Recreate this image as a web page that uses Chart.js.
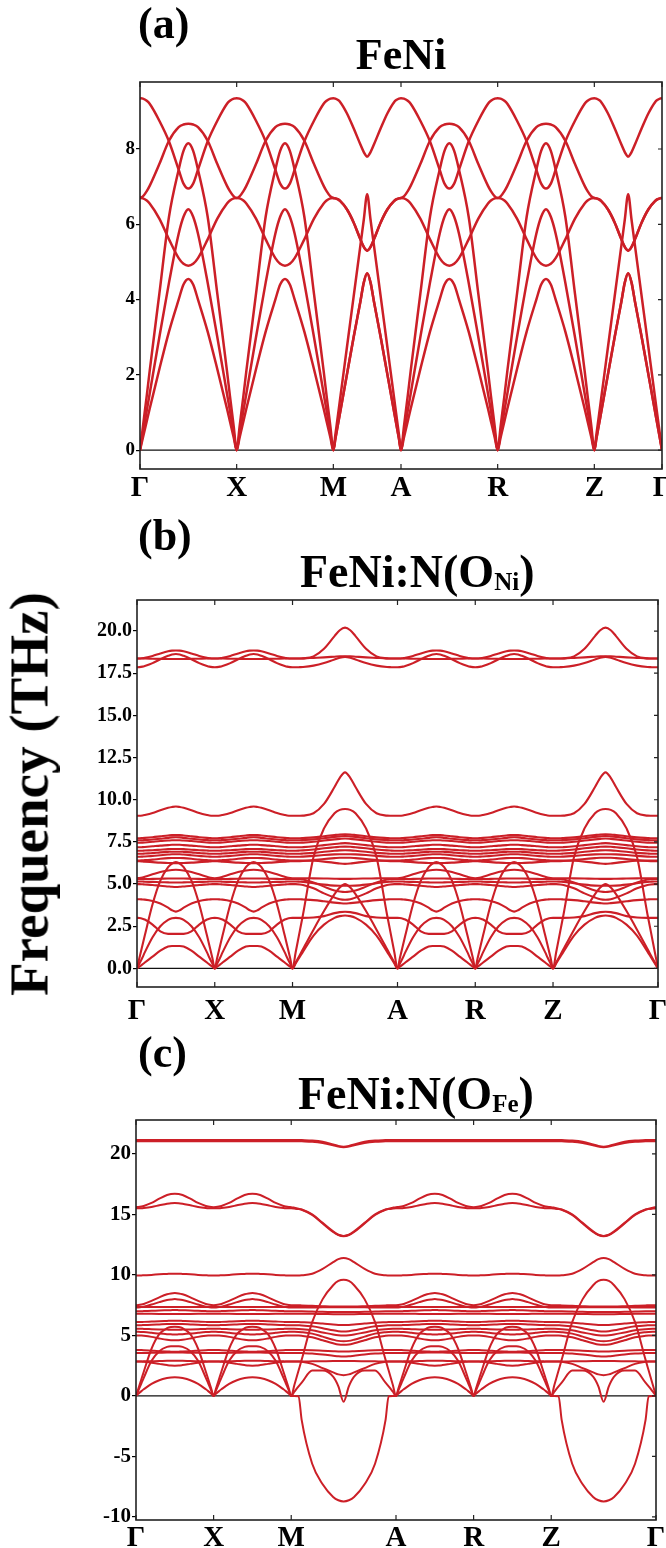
<!DOCTYPE html>
<html><head><meta charset="utf-8">
<script src="https://cdn.jsdelivr.net/npm/chart.js@4.4.1/dist/chart.umd.min.js"></script>
<style>
html,body{margin:0;padding:0;background:#fff;}
body{width:666px;height:1548px;position:relative;overflow:hidden;font-family:'Liberation Serif','Times New Roman',serif;}
canvas{position:absolute;left:0;}
.t{position:absolute;font-weight:bold;line-height:1;white-space:nowrap;color:#000;}
.t sub{font-size:25px;vertical-align:baseline;position:relative;top:3px;}
</style></head><body>
<canvas id="ca" width="666" height="510" style="top:0px"></canvas>
<canvas id="cb" width="666" height="510" style="top:520px"></canvas>
<canvas id="cc" width="666" height="508" style="top:1040px"></canvas>
<div class="t" style="left:138px;top:2px;font-size:44px">(a)</div>
<div class="t" style="left:401px;top:33px;font-size:44px;transform:translateX(-50%)">FeNi</div>
<div class="t" style="left:138px;top:514px;font-size:44px">(b)</div>
<div class="t" style="left:300px;top:549px;font-size:46px">FeNi:N(O<sub>Ni</sub>)</div>
<div class="t" style="left:138px;top:1031px;font-size:44px">(c)</div>
<div class="t" style="left:298px;top:1071px;font-size:46px">FeNi:N(O<sub>Fe</sub>)</div>
<div class="t" style="left:29px;top:794px;font-size:55px;transform:translate(-50%,-50%) rotate(-90deg)">Frequency (THz)</div>
<script>
const RED = '#cc1f27';
const kLabels = ['Γ','X','M','A','R','Z','Γ'];
const nodesA = [0,1,2,2.7,3.7,4.7,5.4];
const nodesBC = [0,1,2,3.35,4.35,5.35,6.7];
const yTicksA = [0,2,4,6,8];
const yTicksB = [0,2.5,5,7.5,10,12.5,15,17.5,20];
const yTicksC = [-10,-5,0,5,10,15,20];
// fractional positions along each segment (first half; second half mirrors)
const tHalf = [0,.03,.07,.1,.2,.3,.4,.45,.5];

// ---- panel (a) FeNi : long segments (Γ-X, X-M, A-R, R-Z) and short (M-A, Z-Γ)
const aL1 = [0,.33,.77,1.1,2.15,3.15,4.0,4.4,4.55];
const aL2 = [0,.45,1.05,1.5,3.0,4.45,5.75,6.2,6.4];
const aL3 = [0,.62,1.45,2.1,4.15,6.2,7.45,7.95,8.15];
const aL4 = [6.7,6.69,6.63,6.55,6.15,5.6,5.1,4.95,4.9];
const aL5 = [6.7,6.74,6.88,7.02,7.6,8.22,8.58,8.65,8.67];
const aL6 = [9.35,9.34,9.28,9.2,8.75,8.2,7.45,7.08,6.95];
const aS1 = [0,.3,.7,1.0,2.0,3.0,3.95,4.45,4.7];
const aS2 = [0,.41,.95,1.36,2.72,4.08,5.44,6.12,6.8];
const aS3 = [6.7,6.69,6.66,6.62,6.4,6.05,5.6,5.4,5.3];
const aS4 = [9.35,9.34,9.3,9.25,8.95,8.55,8.12,7.92,7.8];

// ---- panel (b) FeNi:N(O_Ni)
const bL_h1 = [18.37,18.37,18.37,18.37,18.36,18.35,18.34,18.34,18.34];
const bL_h2 = [18.37,18.37,18.39,18.41,18.52,18.67,18.8,18.84,18.85];
const bL_h3 = [17.85,17.86,17.89,17.93,18.1,18.33,18.53,18.61,18.64];
const bL_m  = [9.05,9.05,9.07,9.1,9.22,9.38,9.52,9.57,9.6];
const bL_d1 = [7.72,7.72,7.73,7.74,7.78,7.83,7.88,7.9,7.9];
const bL_d1b = [7.6,7.6,7.6,7.61,7.64,7.69,7.74,7.77,7.78];
const bL_d2 = [7.45,7.45,7.46,7.47,7.51,7.55,7.58,7.6,7.6];
const bL_d3 = [7.18,7.18,7.19,7.2,7.24,7.28,7.31,7.33,7.33];
const bL_d4 = [6.98,6.98,6.98,6.99,7.01,7.04,7.07,7.08,7.08];
const bL_d4b = [6.8,6.8,6.8,6.81,6.84,6.88,6.91,6.92,6.92];
const bL_d5 = [6.62,6.62,6.63,6.64,6.67,6.71,6.75,6.77,6.77];
const bL_d6 = [6.4,6.4,6.41,6.42,6.45,6.5,6.54,6.55,6.55];
const bL_d7 = [6.35,6.35,6.34,6.33,6.3,6.27,6.25,6.24,6.24];
const bL_d8 = [5.35,5.36,5.39,5.43,5.58,5.72,5.81,5.84,5.85];
const bL_d9 = [5.3,5.3,5.3,5.3,5.31,5.32,5.33,5.33,5.33];
const bL_d10 = [5.15,5.15,5.15,5.14,5.13,5.11,5.1,5.09,5.09];
const bL_d11 = [5.0,5.0,4.99,4.98,4.95,4.9,4.86,4.84,4.83];
const bL_l1 = [4.1,4.1,4.09,4.08,4.0,3.85,3.6,3.45,3.37];
const bL_l2 = [3.0,2.99,2.95,2.9,2.6,2.2,2.05,2.05,2.05];
const bL_a1 = [0,.1,.24,.35,.7,1.05,1.3,1.33,1.33];
const bL_a2 = [0,.28,.65,.95,1.85,2.5,2.88,2.97,3.0];
const bL_a3 = [0,.6,1.38,1.95,3.8,5.2,6.0,6.22,6.3];
const bS_h1 = [18.37,18.37,18.37,18.38,18.5,18.95,19.7,20.05,20.2];
const bS_h2 = [18.37,18.37,18.37,18.38,18.41,18.44,18.48,18.5,18.5];
const bS_h3 = [17.85,17.85,17.86,17.87,17.95,18.1,18.32,18.42,18.47];
const bS_m  = [9.05,9.05,9.05,9.06,9.2,9.75,10.75,11.3,11.62];
const bS_d1 = [7.72,7.72,7.72,7.73,7.77,7.84,7.91,7.94,7.95];
const bS_d1b = [7.6,7.6,7.6,7.61,7.65,7.72,7.8,7.83,7.85];
const bS_d2 = [7.45,7.45,7.45,7.46,7.51,7.58,7.65,7.68,7.7];
const bS_d3 = [7.18,7.18,7.18,7.19,7.24,7.31,7.38,7.41,7.43];
const bS_d4 = [6.98,6.98,6.99,7.0,7.05,7.12,7.18,7.21,7.22];
const bS_d4b = [6.8,6.8,6.8,6.81,6.85,6.92,6.98,7.0,7.01];
const bS_d5 = [6.62,6.62,6.62,6.63,6.67,6.72,6.76,6.77,6.77];
const bS_d6 = [6.4,6.4,6.4,6.4,6.38,6.33,6.26,6.22,6.2];
const bS_d7 = [6.35,6.35,6.36,6.37,6.42,6.49,6.54,6.56,6.56];
const bS_d8 = [5.35,5.35,5.35,5.35,5.34,5.33,5.32,5.31,5.31];
const bS_d9 = [5.3,5.3,5.29,5.27,5.1,4.85,4.62,4.56,4.53];
const bS_d10 = [5.15,5.15,5.14,5.13,5.05,4.97,4.91,4.9,4.9];
const bS_d11 = [5.0,5.0,4.98,4.95,4.75,4.45,4.2,4.1,4.07];
const bS_l1 = [4.1,4.1,4.1,4.09,4.05,3.98,3.9,3.87,3.85];
const bS_l2 = [3.0,3.0,3.0,3.0,3.02,3.1,3.28,3.34,3.36];
const bS_a1 = [0,.3,.7,1.0,1.95,2.6,3.0,3.1,3.14];
const bS_a2 = [0,.96,2.24,3.2,6.6,8.3,9.2,9.4,9.45];
const bS_a3 = [0,.35,.8,1.15,2.3,3.4,4.4,4.8,5.0];

// ---- panel (c) FeNi:N(O_Fe)
const cL_h1 = [21.15,21.15,21.15,21.15,21.15,21.15,21.15,21.15,21.15];
const cL_h2 = [21.05,21.05,21.05,21.05,21.05,21.05,21.05,21.05,21.05];
const cL_u1 = [15.6,15.61,15.65,15.7,15.95,16.3,16.6,16.68,16.7];
const cL_u2 = [15.5,15.5,15.51,15.53,15.62,15.75,15.88,15.93,15.95];
const cL_m  = [9.95,9.95,9.96,9.97,10.0,10.05,10.08,10.1,10.1];
const cL_d1 = [7.5,7.51,7.55,7.6,7.85,8.15,8.4,8.47,8.5];
const cL_d2 = [7.3,7.31,7.34,7.38,7.55,7.75,7.92,7.97,8.0];
const cL_d3 = [7.35,7.35,7.35,7.35,7.35,7.35,7.35,7.35,7.35];
const cL_d4 = [7.0,7.0,7.0,7.01,7.03,7.06,7.08,7.09,7.1];
const cL_d5 = [6.8,6.8,6.8,6.8,6.79,6.78,6.77,6.77,6.77];
const cL_d6 = [6.1,6.1,6.11,6.12,6.15,6.18,6.2,6.21,6.21];
const cL_d7 = [5.85,5.85,5.85,5.86,5.88,5.91,5.94,5.95,5.95];
const cL_d8 = [5.55,5.55,5.55,5.54,5.52,5.5,5.48,5.47,5.47];
const cL_d9 = [5.3,5.3,5.29,5.28,5.22,5.15,5.1,5.09,5.08];
const cL_d10 = [5.0,5.0,4.99,4.97,4.88,4.75,4.64,4.61,4.6];
const cL_l1 = [3.8,3.8,3.79,3.78,3.74,3.7,3.67,3.66,3.65];
const cL_l2 = [3.55,3.55,3.55,3.55,3.56,3.57,3.58,3.59,3.59];
const cL_l3 = [2.85,2.85,2.85,2.86,2.87,2.88,2.9,2.9,2.9];
const cL_l4 = [2.85,2.85,2.84,2.82,2.75,2.65,2.55,2.51,2.5];
const cL_a1 = [0,.18,.4,.55,1.0,1.3,1.48,1.53,1.55];
const cL_a2 = [0,.45,1.05,1.5,2.9,3.7,4.05,4.1,4.1];
const cL_a3 = [0,.6,1.4,2.0,3.9,5.1,5.6,5.7,5.72];
const cS_h1 = [21.15,21.15,21.15,21.14,21.1,21.0,20.78,20.66,20.6];
const cS_h2 = [21.05,21.05,21.05,21.04,21.0,20.9,20.72,20.6,20.55];
const cS_u1 = [15.6,15.55,15.47,15.4,15.0,14.3,13.6,13.32,13.22];
const cS_u2 = [15.5,15.48,15.44,15.38,14.95,14.25,13.55,13.3,13.2];
const cS_m  = [9.95,9.95,9.96,9.97,10.1,10.5,11.05,11.3,11.4];
const cS_d1 = [7.5,7.5,7.49,7.48,7.45,7.42,7.4,7.4,7.4];
const cS_d2 = [7.3,7.3,7.3,7.3,7.31,7.32,7.33,7.33,7.33];
const cS_d3 = [7.35,7.35,7.35,7.35,7.35,7.35,7.35,7.35,7.35];
const cS_d4 = [7.0,7.0,7.0,6.99,6.97,6.95,6.94,6.93,6.93];
const cS_d5 = [6.8,6.8,6.8,6.8,6.79,6.77,6.76,6.75,6.75];
const cS_d6 = [6.1,6.1,6.1,6.09,6.05,5.98,5.9,5.87,5.86];
const cS_d7 = [5.85,5.85,5.84,5.83,5.75,5.6,5.42,5.35,5.32];
const cS_d8 = [5.55,5.55,5.54,5.52,5.42,5.25,5.08,5.02,5.0];
const cS_d9 = [5.3,5.3,5.29,5.27,5.15,4.9,4.65,4.55,4.52];
const cS_d10 = [5.0,5.0,4.99,4.97,4.85,4.6,4.35,4.25,4.22];
const cS_l1 = [3.8,3.8,3.8,3.8,3.78,3.74,3.7,3.68,3.67];
const cS_l2 = [3.55,3.55,3.55,3.54,3.5,3.42,3.32,3.27,3.25];
const cS_l3 = [2.85,2.85,2.85,2.85,2.86,2.87,2.88,2.88,2.88];
const cS_l4 = [2.85,2.85,2.84,2.82,2.65,2.3,1.95,1.78,1.72];
const cS_a1 = [0,.35,.8,1.1,2.1,2.1,1.6,.8,-.47];
const cS_a2 = [0,.9,2.1,3.0,6.1,8.0,9.15,9.5,9.6];
const cS_a3 = [0,0,-.02,-2.0,-5.6,-7.3,-8.35,-8.62,-8.72];

const bandsA = [[aL1,aS1],[aL2,aS1],[aL3,aS2],[aL4,aS3],[aL5,aS3],[aL6,aS4]];
const bandsB = [[bL_h1,bS_h1],[bL_h2,bS_h2],[bL_h3,bS_h3],[bL_m,bS_m],[bL_d1,bS_d1],[bL_d1b,bS_d1b],[bL_d2,bS_d2],
  [bL_d3,bS_d3],[bL_d4,bS_d4],[bL_d4b,bS_d4b],[bL_d5,bS_d5],[bL_d6,bS_d6],[bL_d7,bS_d7],[bL_d8,bS_d8],[bL_d9,bS_d9],
  [bL_d10,bS_d10],[bL_d11,bS_d11],[bL_l1,bS_l1],[bL_l2,bS_l2],[bL_a1,bS_a1],[bL_a2,bS_a2],[bL_a3,bS_a3]];
const bandsC = [[cL_h1,cS_h1],[cL_h2,cS_h2],[cL_u1,cS_u1],[cL_u2,cS_u2],[cL_m,cS_m],[cL_d1,cS_d1],
  [cL_d2,cS_d2],[cL_d3,cS_d3],[cL_d4,cS_d4],[cL_d5,cS_d5],[cL_d6,cS_d6],[cL_d7,cS_d7],[cL_d8,cS_d8],
  [cL_d9,cS_d9],[cL_d10,cS_d10],[cL_l1,cS_l1],[cL_l2,cS_l2],[cL_l3,cS_l3],[cL_l4,cS_l4],
  [cL_a1,cS_a1],[cL_a2,cS_a2],[cL_a3,cS_a3]];

function mirror(h){ return h.concat(h.slice(0,-1).reverse()); }
const tFull = tHalf.concat(tHalf.slice(0,-1).reverse().map(t => 1 - t));
function bandPoints(nodes, L, S){
  const segs = [L,L,S,L,L,S].map(mirror);
  const pts = [];
  for (let i = 0; i < 6; i++){
    const a = nodes[i], b = nodes[i+1];
    for (let j = (i === 0 ? 0 : 1); j < tFull.length; j++){
      pts.push({x: a + tFull[j]*(b - a), y: segs[i][j]});
    }
  }
  return pts;
}

const FONT = "'Liberation Serif','Times New Roman',serif";
const framePlugin = {
  id: 'frame',
  beforeDatasetsDraw(chart){
    const {ctx, chartArea: ca, scales: {y}} = chart;
    const y0 = y.getPixelForValue(0);
    ctx.save(); ctx.strokeStyle = '#111'; ctx.lineWidth = 1.2;
    ctx.beginPath(); ctx.moveTo(ca.left, y0); ctx.lineTo(ca.right, y0); ctx.stroke(); ctx.restore();
  },
  afterDatasetsDraw(chart){
    const {ctx, chartArea: ca, scales: {x, y}} = chart;
    ctx.save(); ctx.strokeStyle = '#222'; ctx.lineWidth = 1.6;
    ctx.strokeRect(ca.left, ca.top, ca.right - ca.left, ca.bottom - ca.top);
    ctx.lineWidth = 1.2; ctx.beginPath();
    x.ticks.forEach(t => { const px = x.getPixelForValue(t.value);
      ctx.moveTo(px, ca.top); ctx.lineTo(px, ca.top + 5); ctx.moveTo(px, ca.bottom); ctx.lineTo(px, ca.bottom - 5); });
    y.ticks.forEach(t => { const py = y.getPixelForValue(t.value);
      ctx.moveTo(ca.right, py); ctx.lineTo(ca.right - 4, py); });
    ctx.stroke(); ctx.restore();
  }
};

function makeChart(id, cfg){
  const datasets = cfg.bands.map(b => ({
    data: bandPoints(cfg.nodes, b[0], b[1]),
    borderColor: RED, borderWidth: cfg.lw, pointRadius: 0,
    cubicInterpolationMode: 'monotone', fill: false
  }));
  return new Chart(document.getElementById(id), {
    type: 'line',
    data: {datasets},
    options: {
      responsive: false, animation: false, devicePixelRatio: 1, events: [],
      layout: {padding: {top: cfg.padTop, right: cfg.padRight, left: 0, bottom: 0}},
      plugins: {legend: {display: false}, title: {display: false}, tooltip: {enabled: false}},
      scales: {
        x: {
          type: 'linear', min: cfg.nodes[0], max: cfg.nodes[cfg.nodes.length-1],
          afterBuildTicks: s => { s.ticks = cfg.nodes.map(v => ({value: v})); },
          afterFit: s => { s.height = cfg.xH; s.paddingLeft = 0; s.paddingRight = 0; },
          ticks: {callback: (v, i) => kLabels[i], color: '#000', padding: cfg.xPad, maxRotation: 0, autoSkip: false,
                  font: {family: FONT, weight: 'bold', size: 29}},
          grid: {display: false}, border: {display: false}
        },
        y: {
          min: cfg.ymin, max: cfg.ymax,
          afterBuildTicks: s => { s.ticks = cfg.yTicks.map(v => ({value: v})); },
          afterFit: s => { s.width = cfg.yW; s.paddingTop = 0; s.paddingBottom = 0; },
          ticks: {callback: cfg.fmt, color: '#000', padding: 1, font: {family: FONT, weight: 'bold', size: cfg.yFont}},
          grid: {drawOnChartArea: false, drawTicks: true, tickLength: 4, color: '#000', lineWidth: 1.2},
          border: {display: false}
        }
      }
    },
    plugins: [framePlugin]
  });
}

makeChart('ca', {bands: bandsA, nodes: nodesA, lw: 2.5, padTop: 82, padRight: 4, xH: 41, xPad: -6, yW: 140,
  ymin: -0.5, ymax: 9.78, yTicks: yTicksA, fmt: v => String(v), yFont: 19});
makeChart('cb', {bands: bandsB, nodes: nodesBC, lw: 2.1, padTop: 80, padRight: 8, xH: 43, xPad: -1, yW: 137,
  ymin: -1.1, ymax: 21.84, yTicks: yTicksB, fmt: v => v.toFixed(1), yFont: 20});
makeChart('cc', {bands: bandsC, nodes: nodesBC, lw: 2.0, padTop: 80, padRight: 10, xH: 28, xPad: -7, yW: 136,
  ymin: -10.25, ymax: 22.8, yTicks: yTicksC, fmt: v => String(v), yFont: 21});
</script>
</body></html>
